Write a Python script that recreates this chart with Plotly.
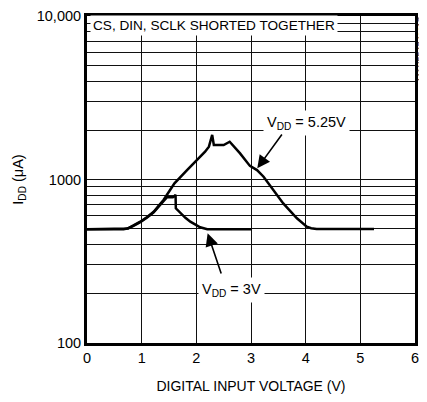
import numpy as np
import plotly.graph_objects as go

# ---- data ----
v525_x = [0, 0.67, 0.75, 0.85, 0.975, 1.1, 1.22, 1.31, 1.40, 1.52, 1.60, 1.83, 2.01, 2.16, 2.23, 2.29, 2.32, 2.50, 2.61, 2.80, 2.98, 3.11, 3.23, 3.41, 3.59, 3.84, 3.95, 4.02, 4.10, 4.20, 5.25]
v525_y = [497, 497, 503, 522, 552, 590, 635, 690, 750, 863, 948, 1142, 1315, 1480, 1587, 1873, 1626, 1626, 1703, 1445, 1211, 1142, 1040, 863, 714, 579, 535, 514, 503, 498, 498]

v3_x = [0, 0.67, 0.75, 0.85, 0.975, 1.1, 1.22, 1.31, 1.41, 1.46, 1.57, 1.60, 1.62, 1.625, 1.71, 1.80, 1.89, 2.0, 2.07, 2.20, 3.01]
v3_y = [497, 497, 502, 520, 548, 585, 630, 682, 750, 778, 778, 795, 805, 667, 621, 583, 552, 525, 510, 497, 497]

x_ticks = [0, 1, 2, 3, 4, 5, 6]
y_ticks = [100, 1000, 10000]
y_ticktext = ["100", "1000", "10,000"]
y_minor = [m * d for d in (100, 1000) for m in range(2, 10)]

FONT = "Liberation Sans, Arial, sans-serif"

fig = go.Figure()
fig.add_trace(go.Scatter(x=v525_x, y=v525_y, mode="lines",
                         line=dict(color="black", width=2.5), showlegend=False))
fig.add_trace(go.Scatter(x=v3_x, y=v3_y, mode="lines",
                         line=dict(color="black", width=2.5), showlegend=False))

L = np.log10
# labels
fig.add_annotation(x=4.02, y=L(2216), xref="x", yref="y", showarrow=False,
                   text="V<sub>DD</sub> = 5.25V", bgcolor="white", borderpad=3,
                   font=dict(size=14.5, color="black", family=FONT))
fig.add_annotation(x=2.64, y=L(211), xref="x", yref="y", showarrow=False,
                   text="V<sub>DD</sub> = 3V", bgcolor="white", borderpad=3,
                   font=dict(size=14.5, color="black", family=FONT))
# arrows
fig.add_annotation(x=3.115, y=3.0685, ax=3.585, ay=3.284, xref="x", yref="y",
                   axref="x", ayref="y", text="", showarrow=True,
                   arrowhead=2, arrowsize=1.6, arrowwidth=1.6, arrowcolor="black")
fig.add_annotation(x=2.207, y=2.671, ax=2.464, ay=2.416, xref="x", yref="y",
                   axref="x", ayref="y", text="", showarrow=True,
                   arrowhead=2, arrowsize=1.6, arrowwidth=1.6, arrowcolor="black")
# title inside plot
fig.add_annotation(x=0.008, y=0.972, xref="paper", yref="paper", xanchor="left",
                   yanchor="middle", showarrow=False,
                   text="CS, DIN, SCLK SHORTED TOGETHER", bgcolor="white", borderpad=2,
                   font=dict(size=13.6, color="black", family=FONT))
# side code
fig.add_annotation(x=1.0, y=1.0, xref="paper", yref="paper", xanchor="center",
                   yanchor="top", xshift=6, yshift=1, showarrow=False, textangle=-90,
                   text="MAX5547 toc17", font=dict(size=9, color="#444", family=FONT))

# the page body adds an 8px margin, so the figure is sized/offset to compensate
fig.update_layout(
    width=419, height=394,
    margin=dict(l=79, r=12, t=8, b=59),
    paper_bgcolor="white", plot_bgcolor="white",
    font=dict(family=FONT, size=14.5, color="black"),
    xaxis=dict(range=[0, 6], tickvals=x_ticks, showgrid=True, gridcolor="#111",
               gridwidth=1, showline=True, linecolor="black", linewidth=3, mirror=True,
               ticks="", zeroline=False, automargin=False,
               title=dict(text="DIGITAL INPUT VOLTAGE (V)", standoff=16,
                          font=dict(size=14))),
    yaxis=dict(type="log", range=[2, 4], tickvals=y_ticks, ticktext=y_ticktext,
               showgrid=True, gridcolor="#111", gridwidth=1,
               minor=dict(tickvals=y_minor, showgrid=True, gridcolor="#111", gridwidth=1, ticks=""),
               showline=True, linecolor="black", linewidth=3, mirror=True, ticks="",
               zeroline=False, automargin=False,
               title=dict(text="I<sub>DD</sub> (μA)", standoff=10, font=dict(size=14.5))),
)

fig.write_html("out.html")
